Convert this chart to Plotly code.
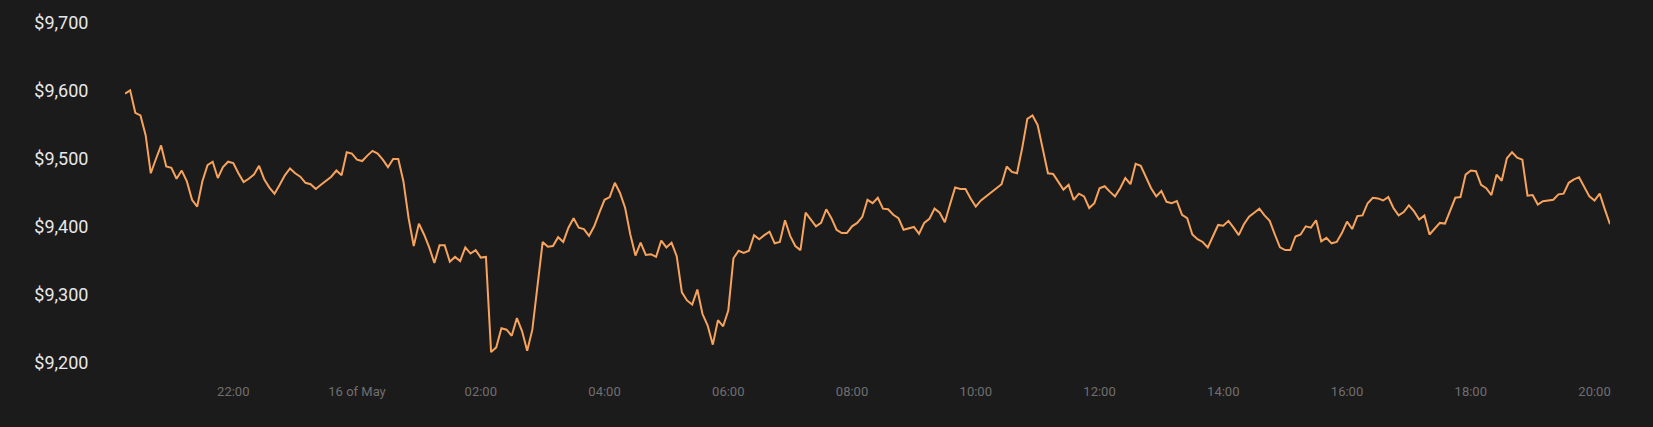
import pandas as pd
import plotly.graph_objects as go

# BTC price, 5-minute samples starting 2020-05-15 20:15
start_time = "2020-05-15 20:15"
interval = "5min"
prices = [
    9596, 9601, 9568, 9564, 9535, 9479, 9500, 9520, 9489, 9487,
    9471, 9483, 9467, 9440, 9430, 9467, 9491, 9496, 9472, 9488,
    9496, 9494, 9479, 9466, 9471, 9477, 9490, 9470, 9458, 9449,
    9462, 9476, 9486, 9479, 9474, 9465, 9463, 9456, 9462, 9468,
    9474, 9483, 9476, 9510, 9508, 9499, 9497, 9505, 9512, 9508,
    9499, 9488, 9500, 9500, 9467, 9413, 9372, 9405, 9389, 9370,
    9347, 9373, 9373, 9349, 9356, 9350, 9370, 9361, 9366, 9355,
    9356, 9216, 9223, 9251, 9249, 9240, 9266, 9247, 9218, 9249,
    9311, 9378, 9371, 9372, 9385, 9378, 9399, 9413, 9399, 9397,
    9387, 9401, 9421, 9440, 9444, 9465, 9450, 9428, 9389, 9358,
    9377, 9359, 9360, 9356, 9380, 9370, 9377, 9357, 9304, 9292,
    9286, 9308, 9272, 9255, 9227, 9263, 9254, 9277, 9354, 9365,
    9362, 9365, 9388, 9382, 9388, 9393, 9376, 9378, 9410, 9387,
    9372, 9366, 9421, 9411, 9401, 9406, 9426, 9413, 9396, 9391,
    9391, 9401, 9406, 9415, 9440, 9435, 9443, 9427, 9426, 9418,
    9413, 9396, 9398, 9400, 9390, 9406, 9412, 9427, 9421, 9407,
    9433, 9458, 9456, 9456, 9442, 9430, 9439, 9445, 9451, 9457,
    9463, 9489, 9481, 9479, 9516, 9559, 9564, 9550, 9516, 9479,
    9478, 9467, 9455, 9462, 9440, 9449, 9445, 9428, 9435, 9457,
    9460, 9452, 9445, 9457, 9472, 9463, 9493, 9490, 9473, 9457,
    9445, 9453, 9437, 9435, 9438, 9418, 9413, 9389, 9382, 9378,
    9370, 9387, 9403, 9402, 9409, 9399, 9388, 9404, 9415, 9421,
    9427, 9417, 9409, 9389, 9370, 9366, 9366, 9386, 9389, 9401,
    9399, 9410, 9379, 9384, 9376, 9378, 9391, 9408, 9397, 9416,
    9417, 9435, 9443, 9442, 9439, 9444, 9428, 9417, 9422, 9432,
    9423, 9411, 9417, 9389, 9398, 9406, 9405, 9424, 9443, 9444,
    9477, 9483, 9482, 9462, 9457, 9447, 9477, 9468, 9501, 9510,
    9502, 9499, 9446, 9447, 9433, 9438, 9439, 9440, 9448, 9449,
    9465, 9470, 9473, 9460, 9445, 9439, 9449, 9426, 9404,
]

tick_times = [
    "2020-05-15 22:00", "2020-05-16 00:00", "2020-05-16 02:00", "2020-05-16 04:00",
    "2020-05-16 06:00", "2020-05-16 08:00", "2020-05-16 10:00", "2020-05-16 12:00",
    "2020-05-16 14:00", "2020-05-16 16:00", "2020-05-16 18:00", "2020-05-16 20:00",
]
tick_labels = ["22:00", "16 of May", "02:00", "04:00", "06:00", "08:00",
               "10:00", "12:00", "14:00", "16:00", "18:00", "20:00"]

y_ticks = [9200, 9300, 9400, 9500, 9600, 9700]
y_labels = ["$9,200", "$9,300", "$9,400", "$9,500", "$9,600", "$9,700"]

times = pd.date_range(start_time, periods=len(prices), freq=interval)

fig = go.Figure()
fig.add_trace(go.Scatter(
    x=times, y=prices, mode="lines",
    line=dict(color="#f7a35c", width=2),
    hoverinfo="skip",
))

bg = "#1c1b1c"
fig.update_layout(
    width=1653, height=427,
    paper_bgcolor=bg, plot_bgcolor=bg,
    margin=dict(l=125, r=43, t=21, b=64),
    showlegend=False,
    font=dict(family="Roboto, sans-serif"),
    xaxis=dict(
        range=[times[0], times[-1]],
        tickmode="array",
        tickvals=pd.to_datetime(tick_times),
        ticktext=tick_labels,
        showgrid=False, zeroline=False, showline=False,
        ticks="outside", ticklen=16, tickcolor="rgba(0,0,0,0)",
        tickfont=dict(size=13, color="#6f6f6f"),
    ),
    yaxis=dict(
        range=[9200, 9700],
        tickmode="array",
        tickvals=y_ticks,
        ticktext=y_labels,
        showgrid=False, zeroline=False, showline=False,
        ticks="outside", ticklen=32, tickcolor="rgba(0,0,0,0)",
        tickfont=dict(size=18, color="#e8e8e8"),
    ),
)

fig.write_html(
    "out.html",
    config={"displayModeBar": False},
    post_script="document.body.style.margin='0';document.body.style.padding='0';"
                "document.body.style.background='#1c1b1c';"
                "document.body.style.overflow='hidden';",
)
